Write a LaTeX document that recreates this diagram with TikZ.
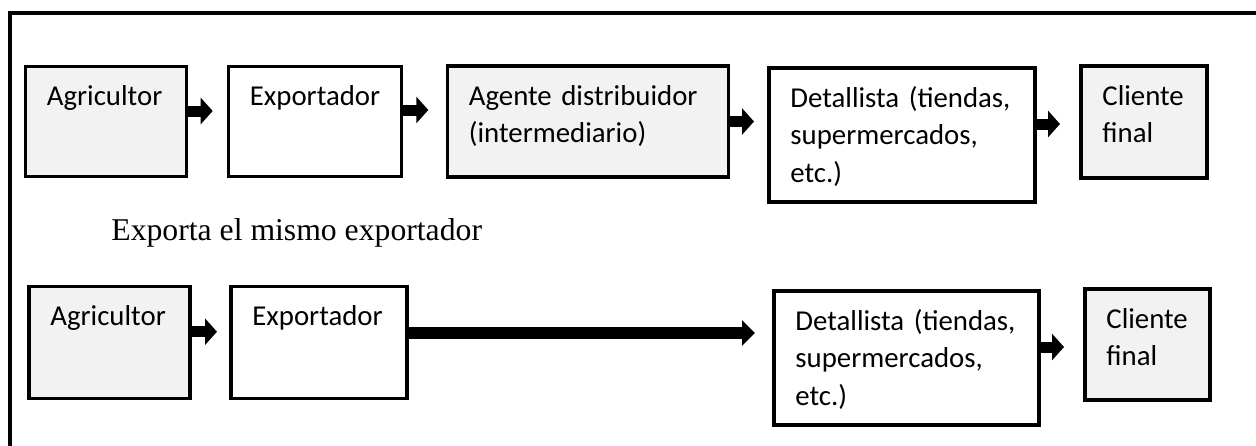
\documentclass[tikz,border=0pt]{standalone}
\usepackage{fontspec}
\setmainfont{Liberation Serif}
\newfontfamily\calibri{Carlito}
\usepackage{tikz}
\usetikzlibrary{arrows.meta}
\tikzstyle{stage}=[draw,line width=1.6pt,anchor=north west,outer sep=0pt,inner xsep=10.7pt,inner ysep=0pt,align=left,text height=19.5pt,font=\calibri\fontsize{14.4}{18.8}\selectfont]
\tikzstyle{shaded}=[stage,fill=black!5]
\tikzstyle{flow}=[line width=5.5pt,-{Triangle[width=13pt,length=6pt]}]
\tikzstyle{direct}=[line width=6.3pt,-{Triangle[width=12.5pt,length=6.5pt]}]

\begin{document}
\begin{tikzpicture}[x=0.5pt,y=-0.5pt]
    \useasboundingbox (0,0) rectangle (1256,445);
    \clip (0,0) rectangle (1256,445);
    % frame
    \draw[line width=1.8pt] (10,13) rectangle (1300,520);

    % with agent
    \node (agr1)[shaded,text width=59.1pt,text depth=35.5pt] at (25.5,66.5) {Agricultor};
    \node (exp1)[stage,text width=65.1pt,text depth=35.5pt] at (228.5,66.5) {Exportador};
    \node (age1)[shaded,text width=119.1pt,text depth=36pt] at (447.5,66) {Agente distribuidor\\(intermediario)};
    \node (det1)[stage,text width=111.6pt,text depth=47.5pt] at (769,68) {\mbox{Detallista (tiendas,}\\supermercados,\\etc.)};
    \node (cli1)[shaded,text width=41.6pt,text depth=36.5pt] at (1081,66) {Cliente\\final};

    \draw[flow,shorten >=7.9pt] ([yshift=5.25pt]agr1.east) -- ([yshift=5.25pt]exp1.west);
    \draw[flow,shorten >=9.6pt] ([yshift=5.75pt]exp1.east) -- ([yshift=5.75pt]age1.west);
    \draw[flow,shorten >=7.5pt] (age1.east) -- ([yshift=6.75pt]det1.west);
    \draw[flow,shorten >=10.5pt] ([yshift=5.5pt]det1.east) -- ([yshift=-1pt]cli1.west);

    \node (note)[anchor=base west,inner sep=0pt,font=\fontsize{15.85}{19}\selectfont] at (111,240) {Exporta el mismo exportador};

    % same exporter
    \node (agr2)[shaded,text width=59.1pt,text depth=36.5pt] at (29,286.5) {Agricultor};
    \node (exp2)[stage,text width=66.6pt,text depth=36.5pt] at (231,286.5) {Exportador};
    \node (det2)[stage,text width=111.1pt,text depth=47.5pt] at (774,291) {\mbox{Detallista (tiendas,}\\supermercados,\\etc.)};
    \node (cli2)[shaded,text width=41.1pt,text depth=36pt] at (1085,289) {Cliente\\final};

    \draw[flow,shorten >=7pt] ([yshift=5.4pt]agr2.east) -- ([yshift=5.4pt]exp2.west);
    \draw[direct,shorten >=9.5pt] ([yshift=4.75pt]exp2.east) -- ([yshift=12.5pt]det2.west);
    \draw[flow,shorten >=10.5pt] ([yshift=5.5pt]det2.east) -- ([yshift=-1.25pt]cli2.west);

\end{tikzpicture}
\end{document}
